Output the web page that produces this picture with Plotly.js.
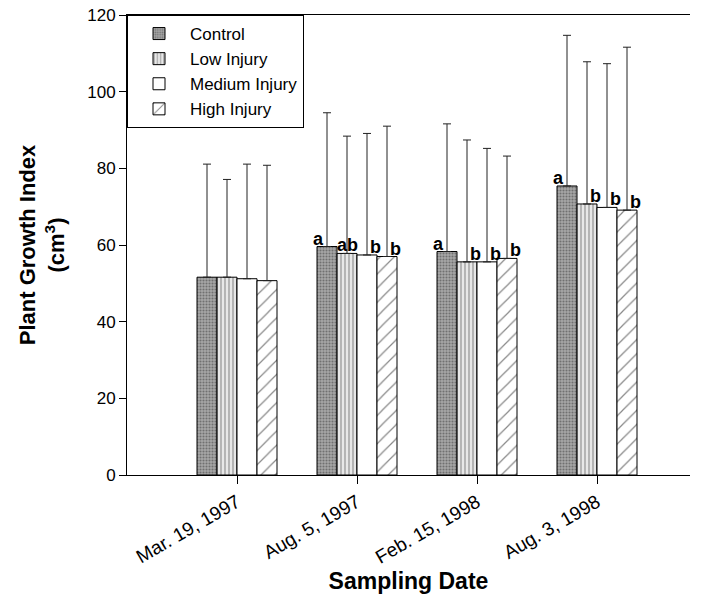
<!DOCTYPE html>
<html>
<head>
<meta charset="utf-8">
<script src="https://cdn.plot.ly/plotly-3.0.1.min.js"></script>
<style>html,body{margin:0;padding:0;background:#fff;}#chart{width:710px;height:600px;}</style>
</head>
<body>
<div id="chart"></div>
<script>
// ---- data ----
const dates = ["Mar. 19, 1997", "Aug. 5, 1997", "Feb. 15, 1998", "Aug. 3, 1998"];
const seriesNames = ["Control", "Low Injury", "Medium Injury", "High Injury"];
const control = [51.6, 59.6, 58.3, 75.4];
const lowInjury = [51.6, 57.8, 55.6, 70.7];
const mediumInjury = [51.2, 57.4, 55.6, 69.8];
const highInjury = [50.7, 57.0, 56.5, 69.1];
const controlErr = [29.5, 34.9, 33.3, 39.3];
const lowErr = [25.5, 30.6, 31.8, 37.1];
const mediumErr = [29.9, 31.7, 29.6, 37.5];
const highErr = [30.1, 34.0, 26.7, 42.5];
const controlLetters = ["", "a", "a", "a"];
const lowLetters = ["", "ab", "b", "b"];
const mediumLetters = ["", "b", "b", "b"];
const highLetters = ["", "b", "b", "b"];

const values = [control, lowInjury, mediumInjury, highInjury];
const errs = [controlErr, lowErr, mediumErr, highErr];
const letters = [controlLetters, lowLetters, mediumLetters, highLetters];

const FONT = "Liberation Sans, Arial, sans-serif";

const styles = [
  {color: "#a0a0a0", pattern: {shape: ".", fgcolor: "#383838", bgcolor: "#a8a8a8", size: 3, solidity: 0.4, fillmode: "overlay"}},
  {color: "#e0e0e0", pattern: {shape: "|", fgcolor: "#555", bgcolor: "#e8e8e8", size: 4, solidity: 0.35, fillmode: "overlay"}},
  {color: "#ffffff", pattern: {shape: ""}},
  {color: "#ffffff", pattern: {shape: "/", fgcolor: "#111", bgcolor: "#fff", size: 10, solidity: 0.12, fillmode: "overlay"}}
];

const traces = seriesNames.map((name, i) => ({
  type: "bar",
  name: name,
  x: dates,
  y: values[i],
  marker: {color: styles[i].color, pattern: styles[i].pattern, line: {color: "#000", width: 1}},
  error_y: {type: "data", symmetric: false, array: errs[i], arrayminus: errs[i].map(() => 0),
            color: "#222", thickness: 1, width: 4, visible: true}
}));

// bar centre offsets within a group (4 bars, bargap 1/3)
const groupWidth = 2 / 3;
const barW = groupWidth / 4;
const annotations = [];
letters.forEach((arr, i) => {
  const off = -groupWidth / 2 + barW * (i + 0.5);
  arr.forEach((txt, j) => {
    if (!txt) return;
    let xanchor = "left", xshift = 1;
    if (txt === "a") { xanchor = "right"; xshift = -1; }
    if (txt === "ab") { xanchor = "center"; xshift = 0; }
    annotations.push({
      x: j + off, y: values[i][j], xref: "x", yref: "y",
      text: txt, showarrow: false, xanchor: xanchor, yanchor: "bottom",
      xshift: xshift, yshift: -4,
      font: {family: FONT, size: 18, color: "#000", weight: "bold"}
    });
  });
});

const layout = {
  width: 710, height: 600,
  margin: {l: 127, r: 20, t: 15, b: 125},
  paper_bgcolor: "#fff", plot_bgcolor: "#fff",
  font: {family: FONT, color: "#000", size: 17},
  barmode: "group", bargap: 1/3, bargroupgap: 0,
  showlegend: true,
  legend: {x: 0, y: 1, xanchor: "left", yanchor: "top", bgcolor: "#fff", bordercolor: "#000", borderwidth: 1,
           font: {family: FONT, size: 17}, tracegroupgap: 0, itemwidth: 52},
  xaxis: {
    type: "category", range: [-0.9167, 3.775],
    showline: true, linecolor: "#000", linewidth: 1, mirror: true,
    ticks: "outside", ticklen: 8, tickcolor: "#000",
    tickangle: -30, tickfont: {family: FONT, size: 19},
    showgrid: false, zeroline: false,
    title: {text: "<b>Sampling Date</b>", font: {family: FONT, size: 23}, standoff: 6}
  },
  yaxis: {
    range: [0, 120], tickvals: [0, 20, 40, 60, 80, 100, 120],
    showline: true, linecolor: "#000", linewidth: 1,
    ticks: "outside", ticklen: 7, tickcolor: "#000",
    tickfont: {family: FONT, size: 17},
    showgrid: false, zeroline: false,
    title: {text: "<b>Plant Growth Index<br>(cm<sup>3</sup>)</b>", font: {family: FONT, size: 22}, standoff: 16}
  },
  annotations: annotations
};

Plotly.newPlot("chart", traces, layout, {displayModeBar: false, staticPlot: true});
</script>
</body>
</html>
